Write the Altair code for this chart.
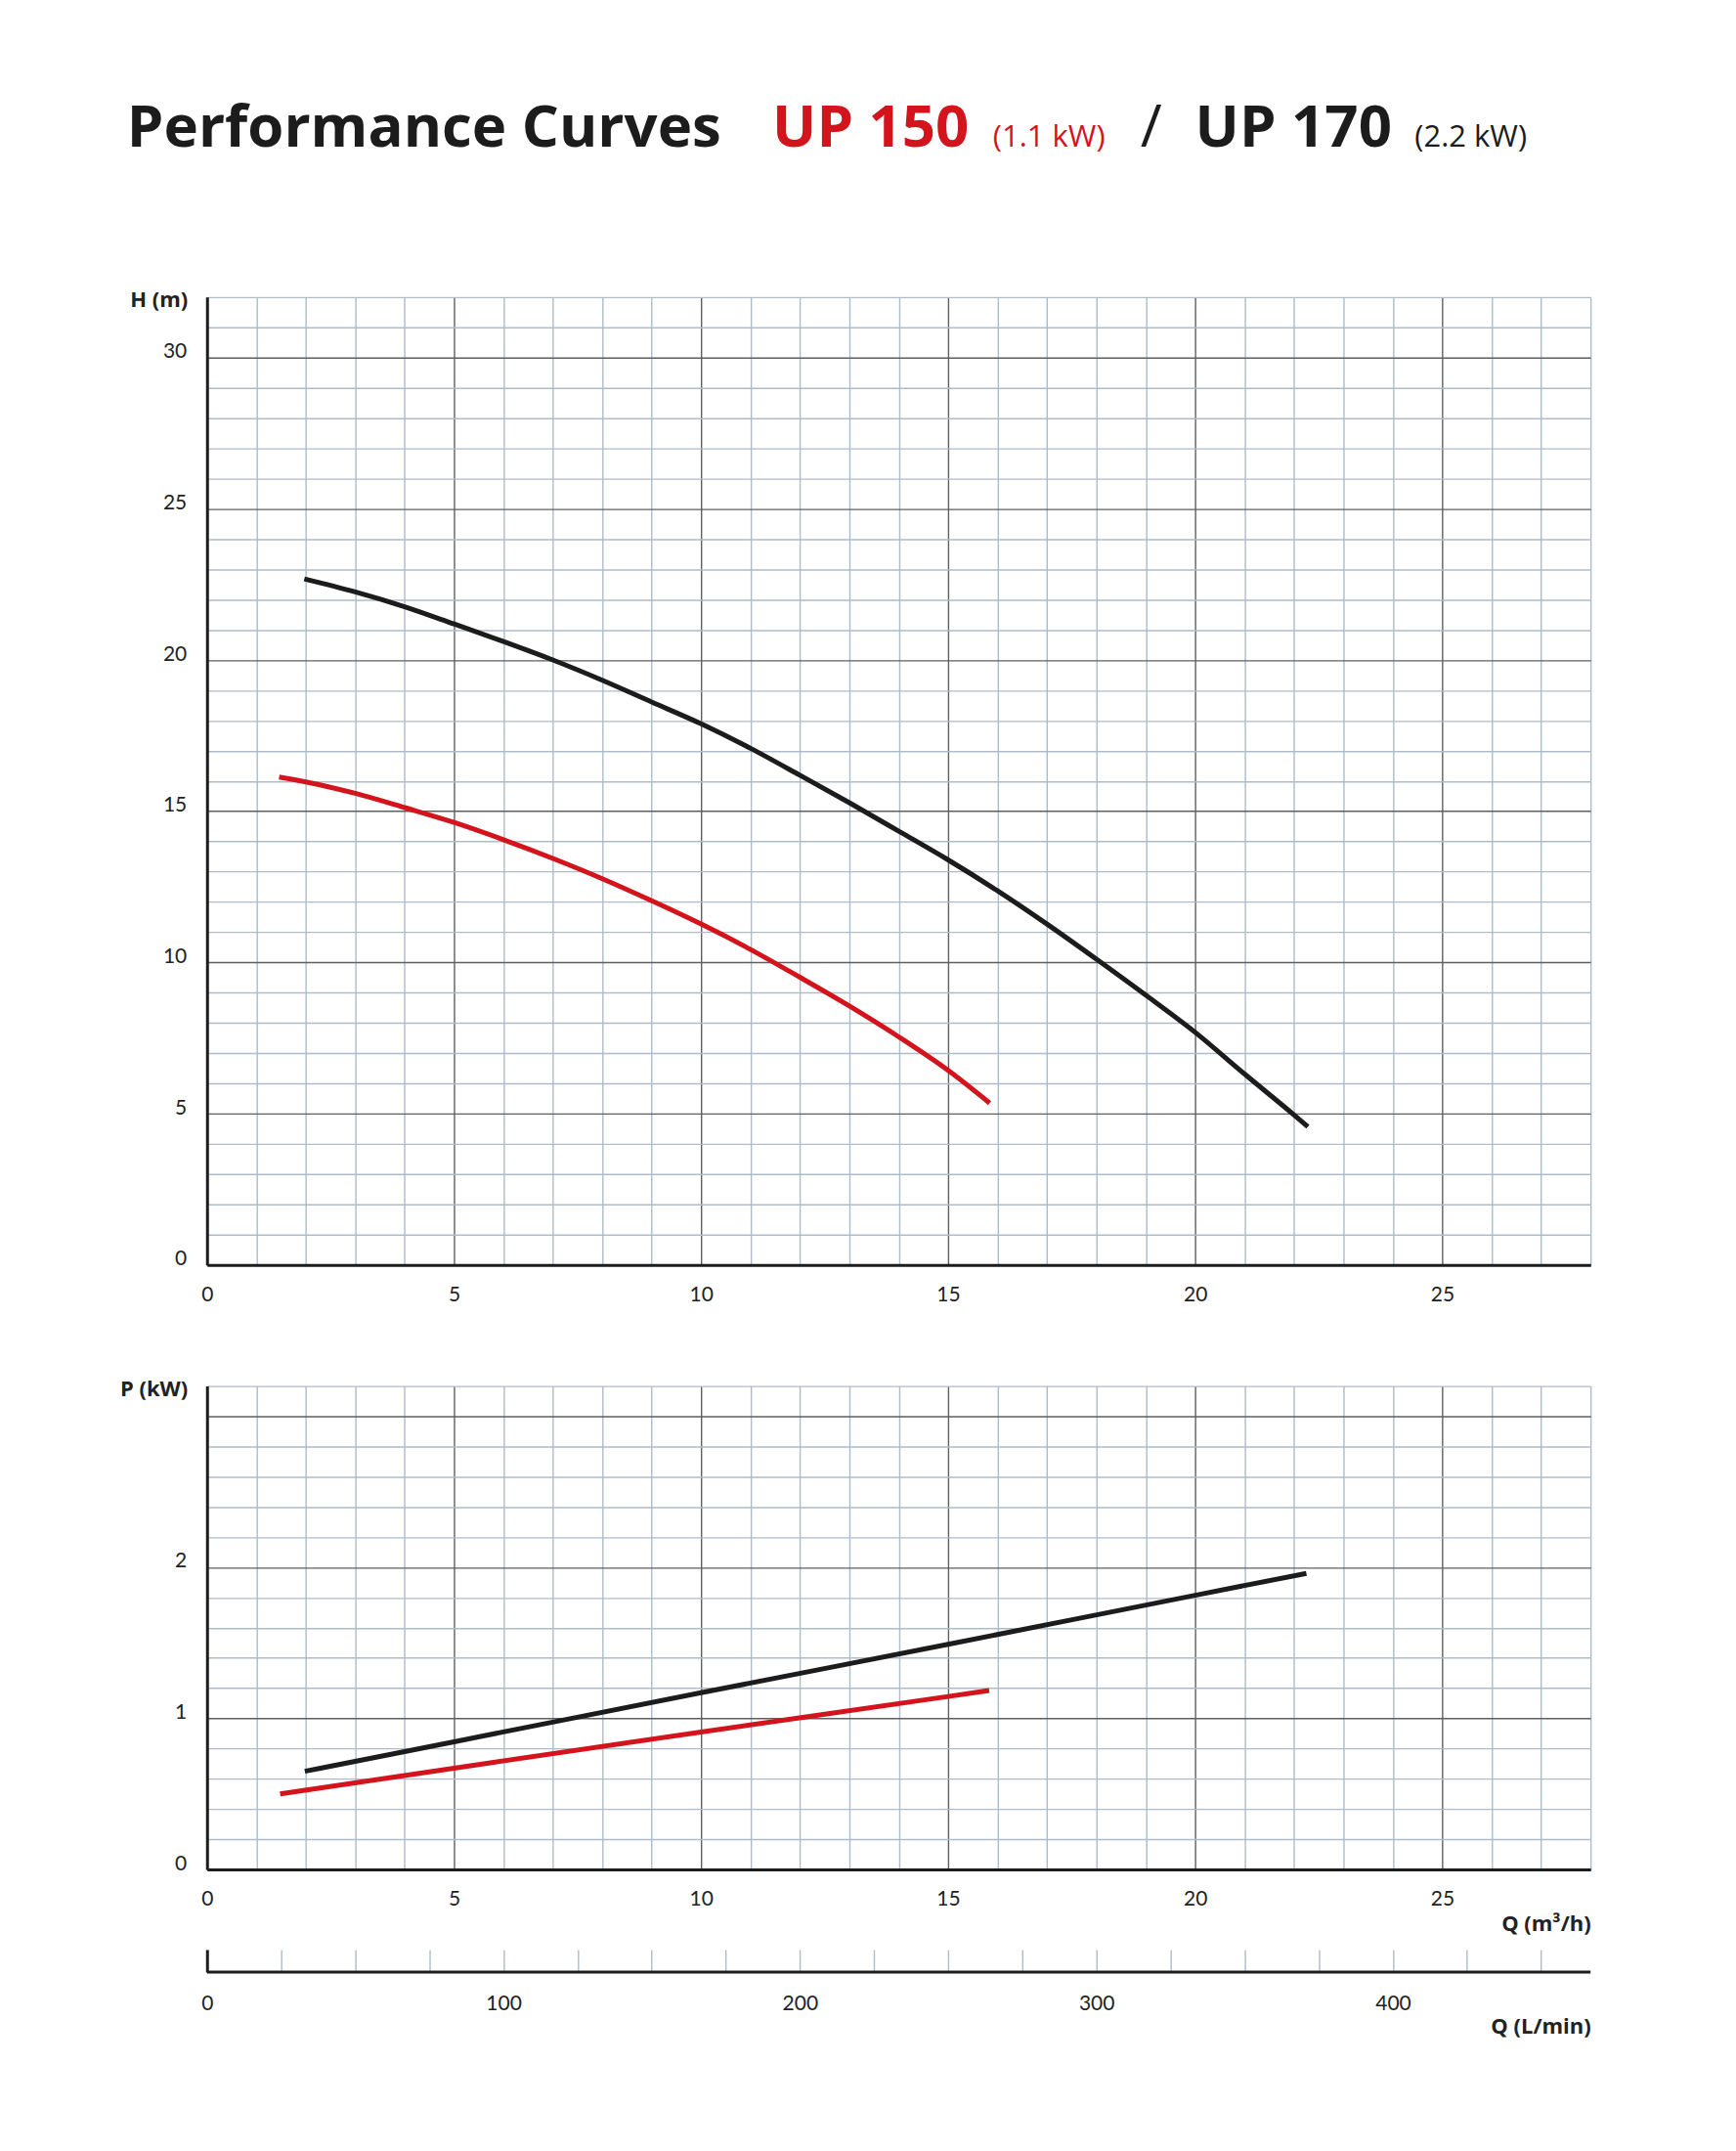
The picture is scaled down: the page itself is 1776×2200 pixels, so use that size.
import altair as alt
import pandas as pd

# ---------------- data ----------------
title_parts = ["Performance Curves", "UP 150", "(1.1 kW)", "/", "UP 170", "(2.2 kW)"]
pumps = ["UP 150", "UP 170"]

q_head_up150 = [1.46, 2, 3, 4, 5, 6, 7, 8, 9, 10, 11, 12, 13, 14, 15, 15.84]
head_up150 = [16.13, 15.97, 15.59, 15.12, 14.63, 14.06, 13.44, 12.77, 12.04, 11.27,
              10.43, 9.51, 8.56, 7.54, 6.43, 5.35]
q_head_up170 = [1.97, 3, 4, 5, 6, 7, 8, 9, 10, 11, 12, 13, 14, 15, 16, 17, 18, 19, 20,
                21, 22, 22.28]
head_up170 = [22.68, 22.25, 21.76, 21.19, 20.61, 20.0, 19.33, 18.61, 17.89, 17.08,
              16.19, 15.28, 14.34, 13.39, 12.37, 11.27, 10.11, 8.92, 7.69, 6.31, 4.96, 4.57]

q_power_up150 = [1.48, 5, 10, 15, 15.83]
power_up150 = [0.50, 0.67, 0.91, 1.145, 1.185]
q_power_up170 = [1.98, 5, 10, 15, 20, 22.25]
power_up170 = [0.65, 0.845, 1.17, 1.49, 1.815, 1.96]

q_ticks = list(range(0, 29))
head_ticks = list(range(0, 33))
power_ticks = [round(i * 0.2, 1) for i in range(17)]
lmin_ticks = list(range(0, 451, 25))

Q_MAX = 28
LMIN_MAX = Q_MAX * 1000 / 60

# ---------------- style ----------------
FONT = "Lato"
TFONT = "Open Sans"
RED = "#d3141c"
BLACK = "#1c1c1c"
MINOR = "#aebbc9"
MAJOR = "#5f5f5f"
W = 1417
H_TOP = 991
H_BOT = 495


def cond(test, yes, no):
    return {"condition": {"test": test, "value": yes}, "value": no}


head_df = pd.concat([
    pd.DataFrame({"q": q_head_up150, "v": head_up150, "pump": pumps[0]}),
    pd.DataFrame({"q": q_head_up170, "v": head_up170, "pump": pumps[1]}),
])
power_df = pd.concat([
    pd.DataFrame({"q": q_power_up150, "v": power_up150, "pump": pumps[0]}),
    pd.DataFrame({"q": q_power_up170, "v": power_up170, "pump": pumps[1]}),
])
one = pd.DataFrame({"k": [0]})

color = alt.Color("pump:N", scale=alt.Scale(domain=pumps, range=[RED, BLACK]), legend=None)

TITLE_KW = dict(titleFont=TFONT, titleFontWeight="bold", titleFontSize=22)


def q_axis(**kw):
    return alt.Axis(
        values=q_ticks,
        labelExpr="datum.value % 5 === 0 && datum.value <= 25 ? datum.label : ''",
        grid=True, gridColor=cond("datum.value % 5 === 0", MAJOR, MINOR), gridWidth=1.4,
        ticks=False, domainColor=BLACK, domainWidth=3,
        labelPadding=20, labelFlush=False, labelOverlap=False, labelBaseline="top",
        **kw,
    )


x_scale = alt.Scale(domain=[0, Q_MAX], nice=False, zero=False)

# ---------------- top: head ----------------
head_lines = alt.Chart(head_df).mark_line(strokeWidth=5, interpolate="monotone").encode(
    x=alt.X("q:Q", scale=x_scale, axis=q_axis(), title=None),
    y=alt.Y("v:Q", scale=alt.Scale(domain=[0, 32], nice=False, zero=False),
            axis=alt.Axis(
                values=head_ticks,
                labelExpr="datum.value % 5 === 0 && datum.value <= 30 ? datum.label : ''",
                grid=True, gridColor=cond("datum.value % 5 === 0", MAJOR, MINOR), gridWidth=1.4,
                ticks=False, domainColor=BLACK, domainWidth=3,
                labelPadding=21, labelFlush=False, labelOverlap=False, labelBaseline="alphabetic",
                titleAngle=0, titleX=-20, titleY=3, titleAlign="right", titleBaseline="middle",
                **TITLE_KW),
            title="H (m)"),
    color=color,
    detail="pump:N",
)

# title pieces (text annotations)
title_x = [-82, 579, 805, 956, 1012, 1237]
title_size = [60, 60, 31, 60, 60, 31]
title_weight = ["bold", "bold", "normal", "normal", "bold", "normal"]
title_color = [BLACK, RED, RED, BLACK, BLACK, BLACK]
title_layers = []
for txt, tx, ts, tw, tc in zip(title_parts, title_x, title_size, title_weight, title_color):
    title_layers.append(
        alt.Chart(one).mark_text(align="left", baseline="alphabetic", font=TFONT,
                                 fontSize=ts, fontWeight=tw, color=tc)
        .encode(x=alt.value(tx), y=alt.value(-154), text=alt.value(txt))
    )

# invisible frame fixing page origin
frame = alt.Chart(one).mark_rule(color="white", strokeWidth=0.01).encode(
    x=alt.value(-211), x2=alt.value(1776 - 211), y=alt.value(-302)
)

top = alt.layer(frame, head_lines, *title_layers).properties(width=W, height=H_TOP)

# ---------------- bottom: power ----------------
INT_TEST = "abs(datum.value - round(datum.value)) < 0.001"
power_lines = alt.Chart(power_df).mark_line(strokeWidth=5, interpolate="monotone").encode(
    x=alt.X("q:Q", scale=x_scale,
            axis=q_axis(titleX=W, titleY=56, titleAlign="right", titleBaseline="middle",
                        orient="bottom", **TITLE_KW),
            title="Q (m³/h)"),
    y=alt.Y("v:Q", scale=alt.Scale(domain=[0, 3.2], nice=False, zero=False),
            axis=alt.Axis(
                values=power_ticks,
                labelExpr=INT_TEST + " && datum.value <= 2 ? toString(round(datum.value)) : ''",
                grid=True,
                gridColor=cond(INT_TEST, MAJOR, MINOR),
                gridWidth=1.4,
                ticks=False, domainColor=BLACK, domainWidth=3,
                labelPadding=21, labelFlush=False, labelOverlap=False, labelBaseline="alphabetic",
                titleAngle=0, titleX=-20, titleY=3, titleAlign="right", titleBaseline="middle",
                **TITLE_KW),
            title="P (kW)"),
    color=color,
    detail="pump:N",
)

lmin_df = pd.DataFrame({"start": [0], "end": [LMIN_MAX]})
lmin_axis_line = alt.Chart(lmin_df).mark_rule(color=BLACK, strokeWidth=3).encode(
    x=alt.X("start:Q", scale=alt.Scale(domain=[0, LMIN_MAX], nice=False, zero=False),
            axis=alt.Axis(
                orient="bottom", offset=82, values=lmin_ticks, domain=False, grid=False,
                ticks=True, tickSize=23,
                tickColor=cond("datum.value === 0", BLACK, MINOR),
                tickWidth=cond("datum.value === 0", 3, 1.4),
                labelExpr="datum.value % 100 === 0 ? datum.label : ''",
                labelPadding=22, labelFlush=False, labelOverlap=False, labelBaseline="top",
                titleX=W, titleY=79, titleAlign="right", titleBaseline="middle",
                **TITLE_KW),
            title="Q (L/min)"),
    x2="end:Q",
    y=alt.value(H_BOT + 105),
)

bottom = (
    alt.layer(power_lines, lmin_axis_line)
    .resolve_scale(x="independent")
    .resolve_axis(x="independent")
    .properties(width=W, height=H_BOT)
)

chart = (
    alt.vconcat(top, bottom, spacing=124, bounds="flush")
    .properties(padding=0, background="white")
    .configure_view(stroke="transparent")
    .configure_axis(labelFont=FONT, labelColor="#222222",
                    titleColor="#222222", labelFontSize=21)
)

chart.save("out.html", embed_options={"renderer": "svg", "actions": False})
